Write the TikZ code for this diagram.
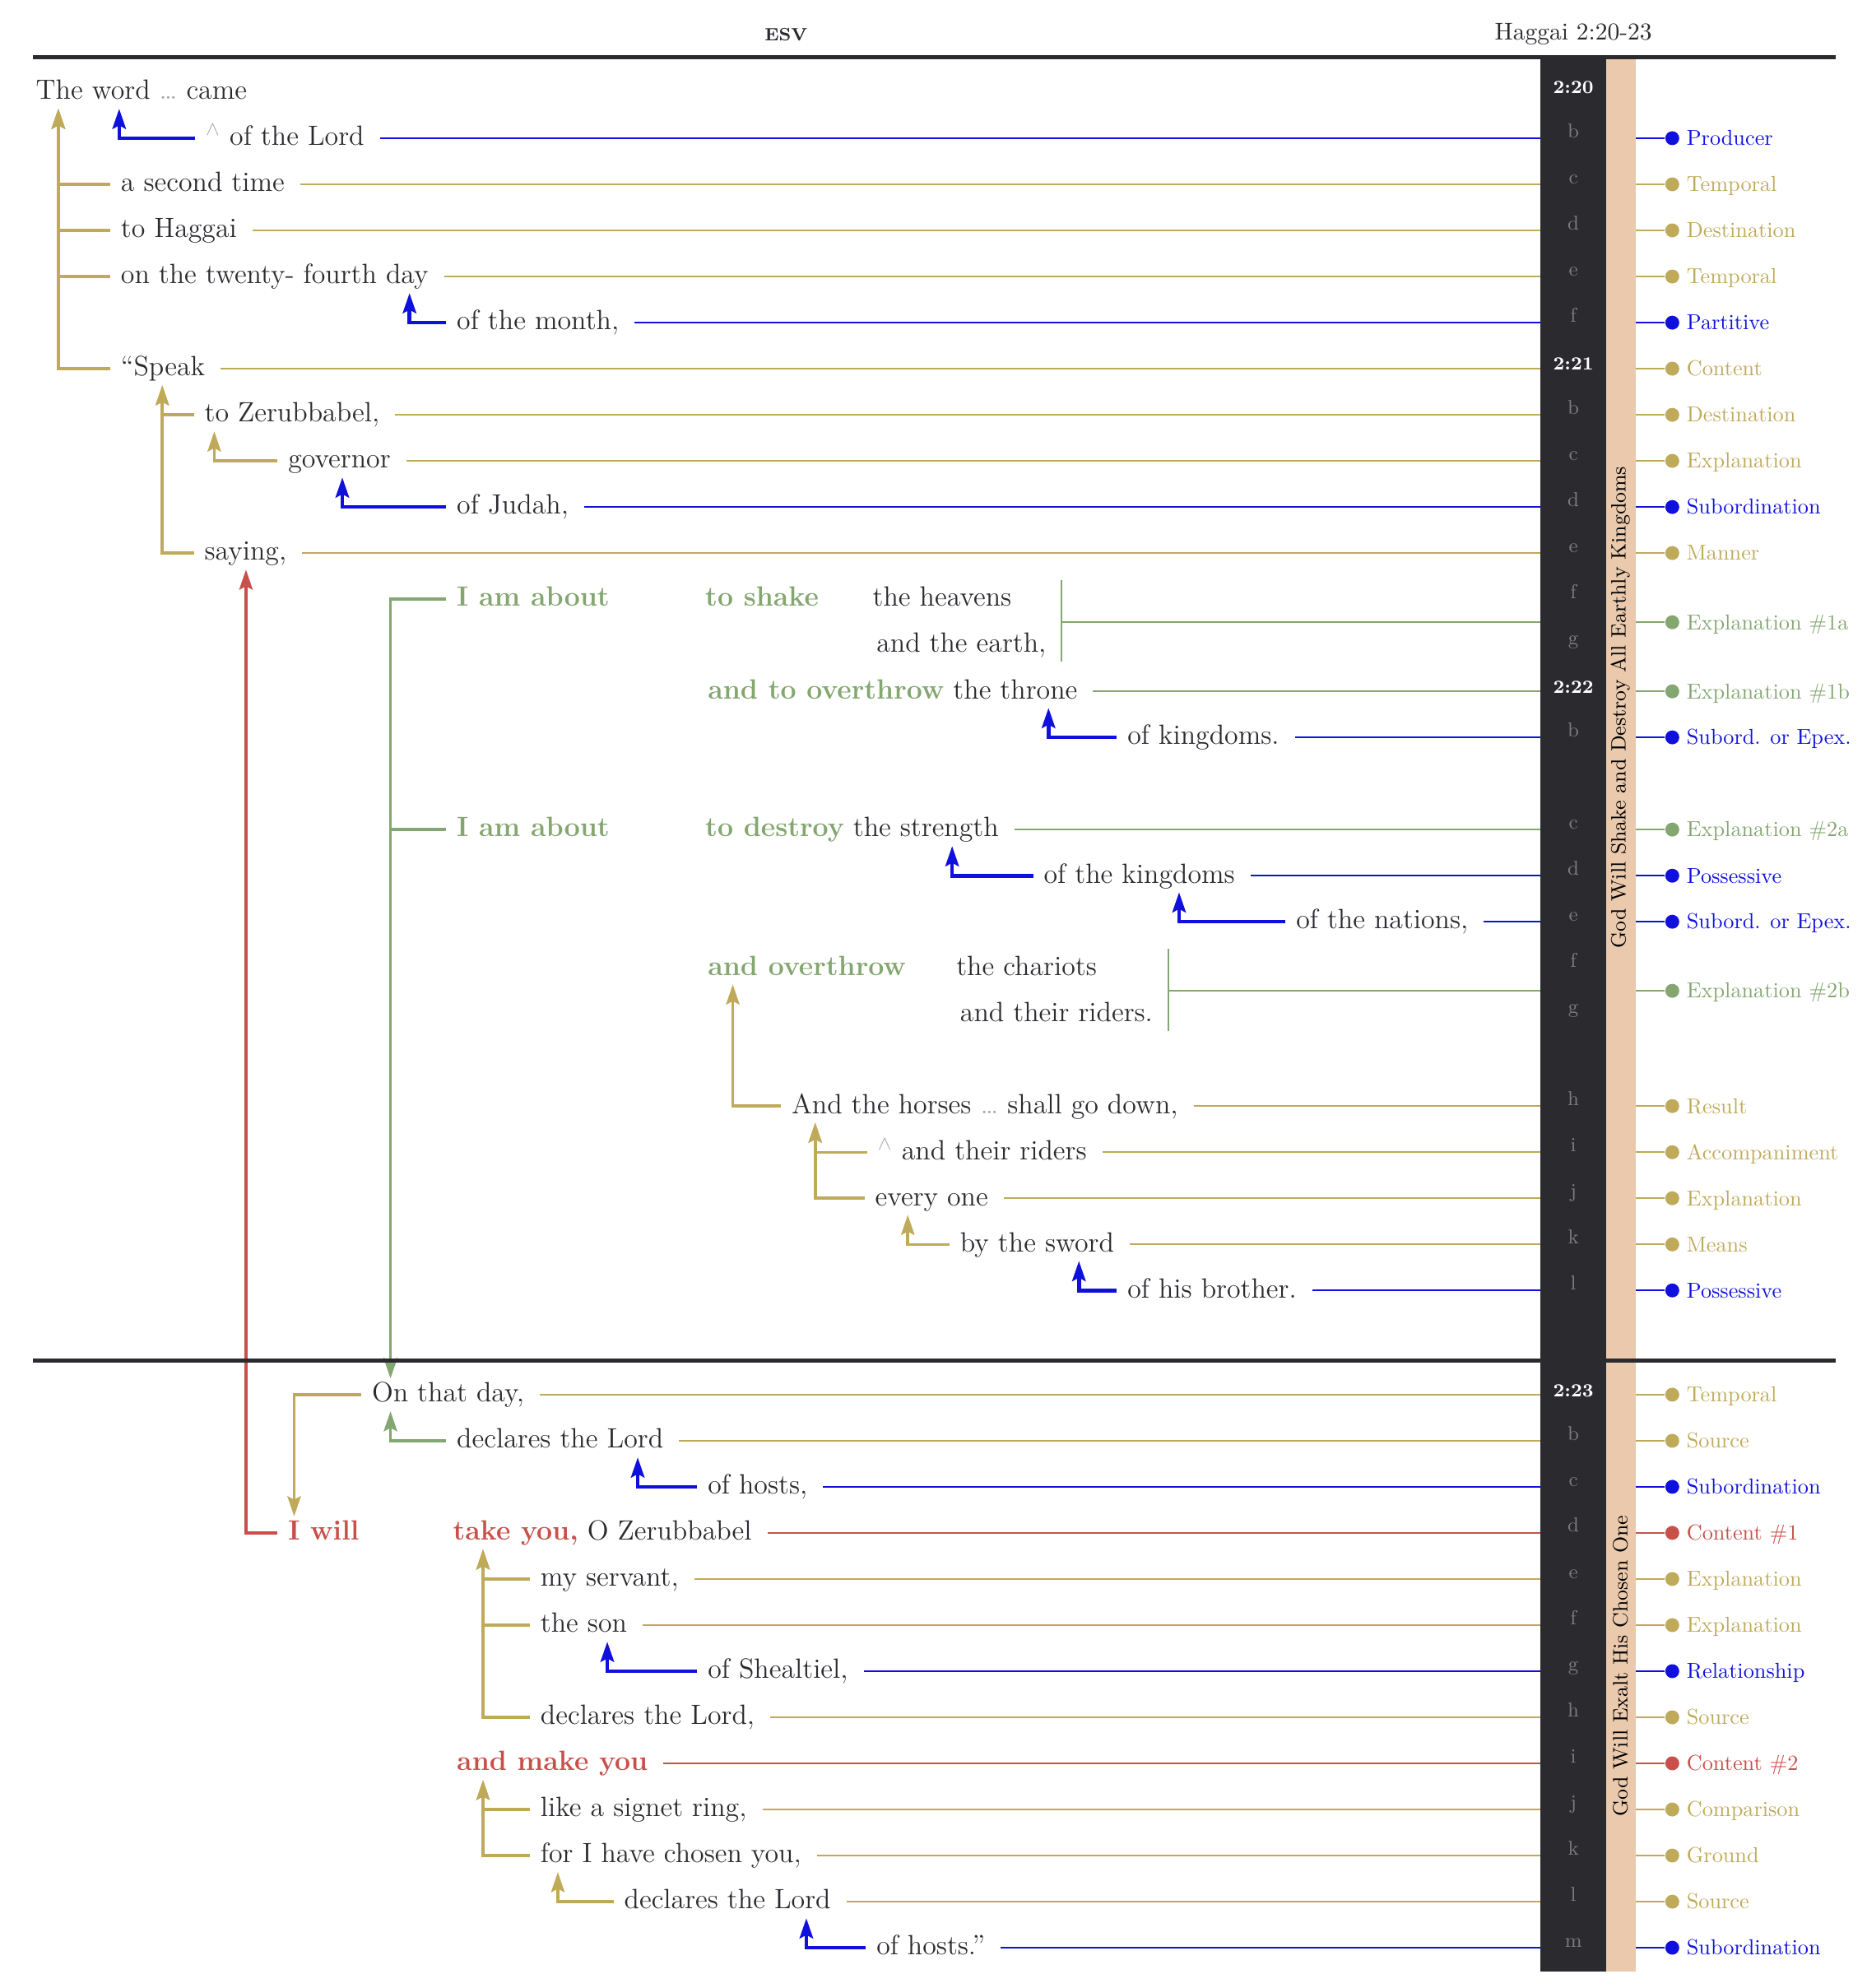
\documentclass[tikz,border=0pt]{standalone}
\usepackage{tikz}
\usetikzlibrary{arrows.meta,calc}
\definecolor{ink}{RGB}{43,42,47}
\definecolor{gld}{RGB}{191,170,90}
\definecolor{blu}{RGB}{16,16,222}
\definecolor{grn}{RGB}{132,166,112}
\definecolor{rd}{RGB}{201,80,74}
\definecolor{peach}{RGB}{234,201,172}
\definecolor{faint}{RGB}{170,170,170}
\definecolor{lettergray}{RGB}{125,125,128}
\newcommand{\gapdots}{{\color{faint}\ldots}}
\newcommand{\omitmark}{{\color{faint}$^{\wedge}$}}
\newcommand{\grbold}[1]{\textcolor{grn}{\bfseries #1}}
\newcommand{\rdbold}[1]{\textcolor{rd}{\bfseries #1}}

\begin{document}
\begin{tikzpicture}[x=0.02cm, y=-0.02cm,
  txt/.style={anchor=west, inner sep=0pt, text height=0.82em, text depth=0.17em,
    font=\fontsize{12.5}{15}\selectfont, text=ink},
  lbl/.style={anchor=west, inner sep=0pt, text height=0.82em, text depth=0.17em,
    font=\fontsize{9.7}{12}\selectfont},
  dot/.style={circle, inner sep=0pt, minimum size=2.2mm},
  vlet/.style={inner sep=0pt, text height=0.7em, text depth=0.2em,
    font=\fontsize{9}{11}\selectfont, text=lettergray},
  vnum/.style={inner sep=0pt, font=\fontsize{8.3}{10}\selectfont\bfseries, text=white},
  tobar/.style={line width=0.75pt, shorten <=2.4mm},
  hook/.style={line width=1.3pt, shorten <=1.6mm, -{Stealth[length=9pt,width=6pt,inset=1.5pt]}},
  bl/.style={hook, blu, line width=1.7pt},
  gl/.style={hook, gld},
  gn/.style={hook, grn},
  rl/.style={hook, rd}]
\useasboundingbox (0,0) rectangle (1472,1568);

% Header
\node[font=\fontsize{8}{9}\selectfont\bfseries, text=ink] (version) at (620,27) {ESV};
\node[font=\fontsize{10.9}{13}\selectfont, text=ink] (passage) at (1241,27) {Haggai 2:20-23};

% Verse bar and theme bar
\fill[ink] (1215,46) rectangle (1267,1555);
\fill[peach] (1267,46) rectangle (1290,1555);
\coordinate (barL) at (1215,0);
\coordinate (peachR) at (1290,0);
\node[rotate=90, font=\fontsize{9.3}{11}\selectfont, text=black] (theme1) at (1278,558) {God Will Shake and Destroy All Earthly Kingdoms};
\node[rotate=90, font=\fontsize{9.3}{11}\selectfont, text=black] (theme2) at (1278,1314) {God Will Exalt His Chosen One};

% Verse numbers and line letters
\node[vnum] (vs20) at (1241,69) {2:20};
\node[vnum] (vs21) at (1241,287) {2:21};
\node[vnum] (vs22) at (1241,542) {2:22};
\node[vnum] (vs23) at (1241,1097) {2:23};
\foreach \y/\t [count=\i] in {109/b, 145.4/c, 181.7/d, 218.1/e, 254.5/f, 327.2/b, 363.5/c,
  399.9/d, 436.2/e, 472.6/f, 508.9/g, 581.6/b, 654.3/c, 690.7/d, 727/e, 763.4/f, 799.7/g,
  872.4/h, 908.8/i, 945.1/j, 981.5/k, 1017.8/l, 1136.4/b, 1172.7/c, 1209/d, 1245.4/e,
  1281.8/f, 1318.1/g, 1354.5/h, 1390.8/i, 1427.2/j, 1463.5/k, 1499.9/l, 1536.2/m}
  \node[vlet] (let\i) at (1241,\y-5) {\t};

% Verse 20-21
\node[txt] (word) at (28,72.7) {The word \gapdots\ came};
\node[txt] (lord) at (162,109) {\omitmark\ of the Lord};
\node[txt] (second) at (95,145.4) {a second time};
\node[txt] (haggai) at (95,181.7) {to Haggai};
\node[txt] (fourth) at (95,218.1) {on the twenty- fourth day};
\node[txt] (month) at (360,254.5) {of the month,};
\node[txt] (speak) at (95,290.8) {``Speak};
\node[txt] (zerub) at (161,327.2) {to Zerubbabel,};
\node[txt] (governor) at (227,363.5) {governor};
\node[txt] (judah) at (360,399.9) {of Judah,};
\node[txt] (saying) at (161,436.2) {saying,};

% Verse 21-22
\node[txt] (amabout1) at (360,472.6) {\grbold{I am about}};
\node[txt] (shake) at (556,472.6) {\grbold{to shake}};
\node[txt] (heavens) at (688,472.6) {the heavens};
\node[txt] (earth) at (691,508.9) {and the earth,};
\node[txt] (throne) at (558,545.3) {\grbold{and to overthrow} the throne};
\node[txt] (kingdoms) at (889,581.6) {of kingdoms.};
\node[txt] (amabout2) at (360,654.3) {\grbold{I am about}};
\node[txt] (strength) at (556,654.3) {\grbold{to destroy} the strength};
\node[txt] (ofkingdoms) at (823,690.7) {of the kingdoms};
\node[txt] (nations) at (1022,727) {of the nations,};
\node[txt] (overthrow) at (558,763.4) {\grbold{and overthrow}};
\node[txt] (chariots) at (754,763.4) {the chariots};
\node[txt] (riders) at (757,799.7) {and their riders.};
\node[txt] (horses) at (624,872.4) {And the horses \gapdots\ shall go down,};
\node[txt] (theirriders) at (692,908.8) {\omitmark\ and their riders};
\node[txt] (everyone) at (690,945.1) {every one};
\node[txt] (sword) at (757,981.5) {by the sword};
\node[txt] (brother) at (889,1017.8) {of his brother.};

% Verse 23
\node[txt] (onday) at (293,1100) {On that day,};
\node[txt] (declaresA) at (360,1136.4) {declares the Lord};
\node[txt] (hostsA) at (558,1172.7) {of hosts,};
\node[txt] (iwill) at (227,1209) {\rdbold{I will}};
\node[txt] (takeyou) at (357,1209) {\rdbold{take you,} O Zerubbabel};
\node[txt] (servant) at (426,1245.4) {my servant,};
\node[txt] (son) at (426,1281.8) {the son};
\node[txt] (shealtiel) at (558,1318.1) {of Shealtiel,};
\node[txt] (declaresB) at (426,1354.5) {declares the Lord,};
\node[txt] (makeyou) at (360,1390.8) {\rdbold{and make you}};
\node[txt] (signet) at (426,1427.2) {like a signet ring,};
\node[txt] (chosen) at (426,1463.5) {for I have chosen you,};
\node[txt] (declaresC) at (492,1499.9) {declares the Lord};
\node[txt] (hostsB) at (691,1536.2) {of hosts.''};

% Lines out to the verse bar
\foreach \n/\c in {lord/blu, second/gld, haggai/gld, fourth/gld, month/blu, speak/gld,
  zerub/gld, governor/gld, judah/blu, saying/gld, throne/grn, kingdoms/blu, strength/grn,
  ofkingdoms/blu, nations/blu, horses/gld, theirriders/gld, everyone/gld, sword/gld,
  brother/blu, onday/gld, declaresA/gld, hostsA/blu, takeyou/rd, servant/gld, son/gld,
  shealtiel/blu, declaresB/gld, makeyou/rd, signet/gld, chosen/gld, declaresC/gld, hostsB/blu}
  \draw[tobar, \c] (\n.east) -- (\n.east -| barL);

% Brackets for paired objects
\coordinate (br1) at ($(earth.east)+(12,-18.2)$);
\draw[grn, line width=0.75pt] ($(br1)+(0,-33)$) -- ($(br1)+(0,31)$);
\draw[grn, line width=0.75pt] (br1) -- (br1 -| barL);
\coordinate (br2) at ($(riders.east)+(12,-18.2)$);
\draw[grn, line width=0.75pt] ($(br2)+(0,-33)$) -- ($(br2)+(0,32)$);
\draw[grn, line width=0.75pt] (br2) -- (br2 -| barL);

% Hooks up to the head phrase
\foreach \a/\b/\d/\s in {lord/word/66/bl, second/word/18/gl, haggai/word/18/gl,
  fourth/word/18/gl, speak/word/18/gl, month/fourth/228/bl, zerub/speak/33/gl,
  saying/speak/33/gl, governor/zerub/8/gl, judah/governor/43/bl, iwill/saying/33/rl,
  declaresA/onday/15/gn, kingdoms/throne/269/bl, ofkingdoms/strength/195/bl,
  nations/ofkingdoms/107/bl, horses/overthrow/20/gl, theirriders/horses/19/gl,
  everyone/horses/19/gl, sword/everyone/26/gl, brother/sword/94/bl,
  hostsA/declaresA/143/bl, servant/takeyou/24/gl, son/takeyou/24/gl,
  declaresB/takeyou/24/gl, shealtiel/son/53/bl, signet/makeyou/21/gl,
  chosen/makeyou/21/gl, declaresC/chosen/14/gl, hostsB/declaresC/144/bl}
  \draw[\s] (\a.west) -| ($(\b.south west)+(\d,4)$);

% Hooks down to the following phrase
\draw[gn] (amabout1.west) -| ($(onday.north west)+(15,-4)$);
\draw[gn] (amabout2.west) -| ($(onday.north west)+(15,-4)$);
\draw[gl] (onday.west) -| ($(iwill.north west)+(5,-4)$);

% Relation labels
\foreach \y/\c/\t [count=\i] in {109/blu/Producer, 145.4/gld/Temporal, 181.7/gld/Destination,
  218.1/gld/Temporal, 254.5/blu/Partitive, 290.8/gld/Content, 327.2/gld/Destination,
  363.5/gld/Explanation, 399.9/blu/Subordination, 436.2/gld/Manner,
  490.8/grn/Explanation \#1a, 545.3/grn/Explanation \#1b, 581.6/blu/Subord. or Epex.,
  654.3/grn/Explanation \#2a, 690.7/blu/Possessive, 727/blu/Subord. or Epex.,
  781.5/grn/Explanation \#2b, 872.4/gld/Result, 908.8/gld/Accompaniment,
  945.1/gld/Explanation, 981.5/gld/Means, 1017.8/blu/Possessive, 1100/gld/Temporal,
  1136.4/gld/Source, 1172.7/blu/Subordination, 1209/rd/Content \#1,
  1245.4/gld/Explanation, 1281.8/gld/Explanation, 1318.1/blu/Relationship,
  1354.5/gld/Source, 1390.8/rd/Content \#2, 1427.2/gld/Comparison, 1463.5/gld/Ground,
  1499.9/gld/Source, 1536.2/blu/Subordination}
{
  \node[dot, fill=\c] (dot\i) at (1319,\y) {};
  \node[lbl, text=\c] (lab\i) at (1330,\y) {\t};
  \draw[\c, line width=0.75pt] (dot\i) -- (dot\i -| peachR);
}

% Rules
\draw[ink, line width=1.9pt] (26,45) -- (1448,45);
\draw[ink, line width=1.9pt] (26,1073) -- (1448,1073);
\end{tikzpicture}
\end{document}
